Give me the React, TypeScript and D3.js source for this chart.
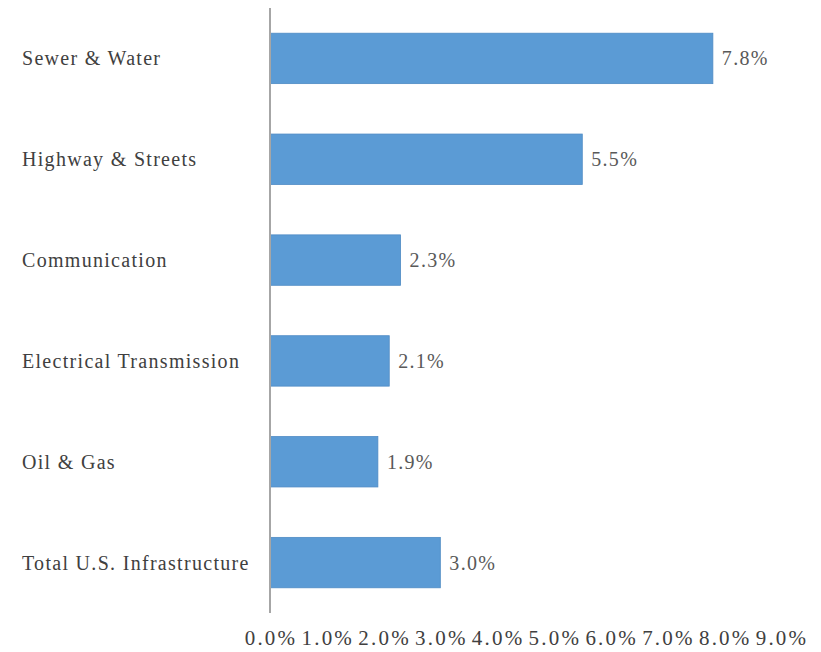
import React from "react";
import * as d3 from "d3";

const categories = [
  "Sewer & Water",
  "Highway & Streets",
  "Communication",
  "Electrical Transmission",
  "Oil & Gas",
  "Total U.S. Infrastructure",
];
const values = [7.8, 5.5, 2.3, 2.1, 1.9, 3.0];
const ticks = [0, 1, 2, 3, 4, 5, 6, 7, 8, 9];

const W = 821;
const H = 652;
const FONT = '"Liberation Serif", "DejaVu Serif", serif';

export default function App() {
  const x = d3.scaleLinear().domain([0, 9]).range([270, 781]);
  const y = d3
    .scaleBand<string>()
    .domain(categories)
    .range([8, 613])
    .paddingInner(0.5)
    .paddingOuter(0.25);
  const fmt = (v: number) => v.toFixed(1) + "%";
  const ts: React.CSSProperties = { fontFamily: FONT, fontSize: 20, letterSpacing: "1.3px" };
  const tickStyle: React.CSSProperties = { fontFamily: FONT, fontSize: 21, letterSpacing: "2.2px" };

  return (
    <svg
      width={W}
      height={H}
      style={{ position: "absolute", left: 0, top: 0, background: "#fff" }}
    >
      {categories.map((c, i) => {
        const yy = y(c)!;
        const bw = y.bandwidth();
        return (
          <g key={c}>
            <rect
              x={x(0)}
              y={yy}
              width={x(values[i]) - x(0)}
              height={bw}
              fill="#5B9BD5"
              stroke="#4F8BC4"
              strokeWidth={0.8}
            />
            <text x={22} y={yy + bw / 2} dy="0.35em" style={ts} fill="#404040">
              {c}
            </text>
            <text x={x(values[i]) + 9} y={yy + bw / 2} dy="0.35em" style={ts} fill="#595959">
              {fmt(values[i])}
            </text>
          </g>
        );
      })}
      <line x1={x(0)} x2={x(0)} y1={8} y2={613} stroke="#A6A6A6" strokeWidth={2} />
      {ticks.map((t) => (
        <text key={t} x={x(t) + 1} y={645} textAnchor="middle" style={tickStyle} fill="#404040">
          {fmt(t)}
        </text>
      ))}
    </svg>
  );
}
